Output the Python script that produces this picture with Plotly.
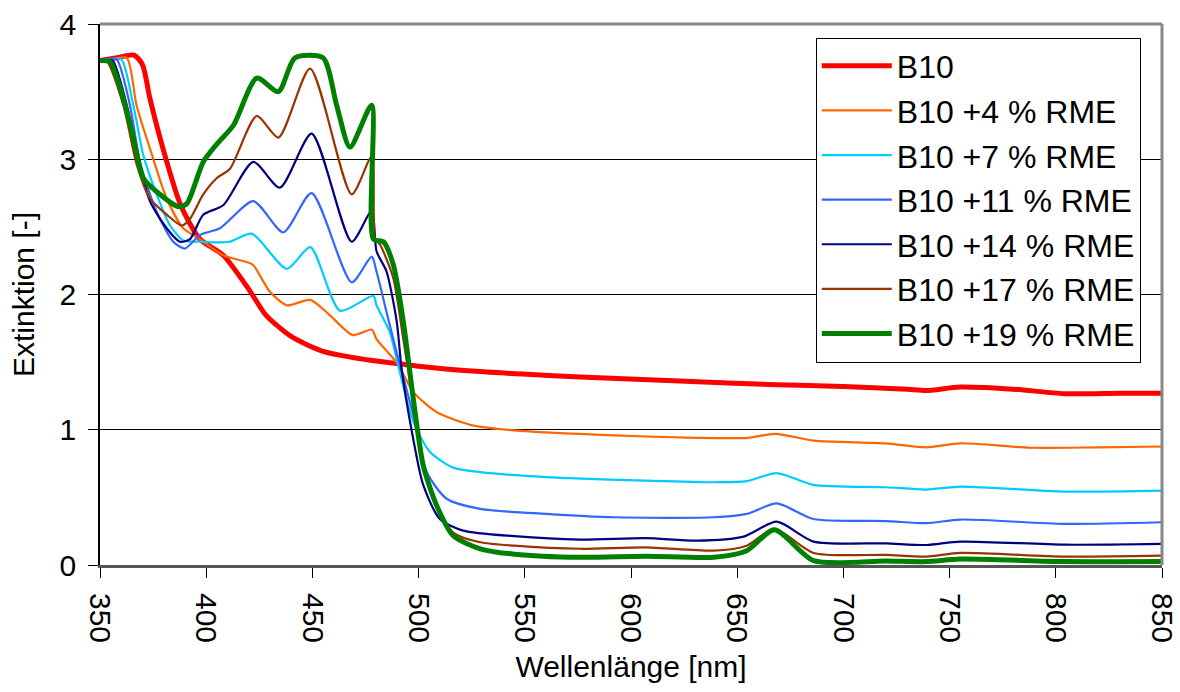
import plotly.graph_objects as go

# ---- data ----
x_b10 = [350, 358, 366, 370, 373.5, 380, 388, 397, 408, 420, 428, 440, 455, 479, 490, 500,
         529, 576, 623, 669, 700, 730, 739, 755, 780, 804, 830, 850]
y_b10 = [3.73, 3.75, 3.77, 3.70, 3.45, 3.06, 2.66, 2.41, 2.29, 2.04, 1.85, 1.69, 1.58, 1.51, 1.49, 1.47,
         1.43, 1.39, 1.36, 1.333, 1.32, 1.30, 1.29, 1.316, 1.30, 1.267, 1.27, 1.27]

x_r4 = [350, 356, 362.6, 367.2, 373.5, 381.4, 389.2, 397, 408, 419, 422, 430, 438, 449, 458, 469, 478,
        480.2, 490, 497.5, 508.5, 526, 545, 592, 631, 655, 668, 686, 720, 739, 755, 788, 820, 850]
y_r4 = [3.73, 3.74, 3.75, 3.40, 3.08, 2.71, 2.49, 2.41, 2.29, 2.24, 2.22, 2.02, 1.92, 1.96, 1.85, 1.70, 1.74,
        1.67, 1.49, 1.28, 1.13, 1.03, 0.995, 0.958, 0.94, 0.94, 0.97, 0.92, 0.90, 0.87, 0.90, 0.867, 0.87, 0.876]

x_r7 = [350, 355, 360, 365.7, 370.4, 376.7, 383, 389.2, 397, 411, 421.4, 438, 449, 463, 478.7, 480.2,
        486.5, 490, 497.5, 505.4, 516.3, 529, 560, 607, 639, 654.5, 668.6, 686, 720, 739, 755, 804, 850]
y_r7 = [3.73, 3.74, 3.74, 3.40, 3.03, 2.74, 2.51, 2.40, 2.39, 2.39, 2.45, 2.19, 2.35, 1.88, 1.99, 1.92,
        1.72, 1.50, 1.06, 0.835, 0.72, 0.687, 0.65, 0.624, 0.612, 0.62, 0.68, 0.593, 0.575, 0.558, 0.58, 0.543, 0.55]

x_r11 = [350, 354, 357.8, 364.1, 368.8, 376.7, 384.5, 390, 397, 406.5, 422.2, 436.3, 449.6, 468.5, 477.9,
         480.2, 484.9, 490, 497.5, 503.8, 513.2, 529, 560, 592, 639, 654.5, 668.6, 686, 720, 739, 755, 804, 850]
y_r11 = [3.73, 3.74, 3.74, 3.40, 2.98, 2.61, 2.39, 2.34, 2.44, 2.49, 2.69, 2.46, 2.75, 2.09, 2.28,
         2.17, 1.87, 1.55, 1.11, 0.687, 0.49, 0.415, 0.378, 0.353, 0.353, 0.378, 0.455, 0.34, 0.325, 0.309, 0.336, 0.304, 0.316]

x_r14 = [350, 353, 356, 362.6, 367.3, 373.5, 381.4, 387.7, 392.4, 398.6, 408, 422.2, 434.7, 449.6, 468.5,
         477.9, 480.2, 484.9, 489.7, 492, 497.5, 502.2, 510, 521, 545, 576, 607, 631, 653, 668.6, 686, 720,
         739, 755, 804, 850]
y_r14 = [3.73, 3.73, 3.73, 3.40, 3.06, 2.69, 2.49, 2.39, 2.41, 2.59, 2.66, 2.98, 2.79, 3.19, 2.39,
         2.62, 2.32, 2.17, 1.80, 1.45, 0.93, 0.59, 0.34, 0.254, 0.213, 0.188, 0.198, 0.18, 0.21, 0.32, 0.173, 0.16,
         0.148, 0.173, 0.15, 0.156]

x_r17 = [350, 353, 361, 367.3, 373.5, 381.4, 388.5, 392.4, 398.6, 404.9, 411.2, 423.8, 434, 448.9, 468.5,
         477.9, 479.5, 481.8, 488.1, 492.8, 497.5, 502, 508.5, 516.3, 529, 545, 576, 607, 639, 654.5, 667.5,
         686, 720, 739, 755, 804, 850]
y_r17 = [3.73, 3.73, 3.40, 2.96, 2.71, 2.59, 2.51, 2.56, 2.74, 2.86, 2.93, 3.32, 3.16, 3.67, 2.74,
         3.02, 2.41, 2.37, 2.12, 1.67, 1.20, 0.75, 0.45, 0.24, 0.168, 0.143, 0.12, 0.13, 0.106, 0.143, 0.267,
         0.089, 0.075, 0.062, 0.089, 0.062, 0.069]

x_r19 = [350, 354.7, 360, 365.7, 370.4, 376.7, 386.9, 390.8, 398.6, 404.9, 412.8, 423.8, 434, 441.8, 455,
         461.4, 467.7, 477.9, 478.7, 483.4, 488.1, 492.8, 497.5, 502.2, 508.5, 516.3, 529, 545, 576, 607, 639,
         654.5, 667.5, 686, 720, 739, 755, 804, 850]
y_r19 = [3.73, 3.72, 3.50, 3.16, 2.86, 2.76, 2.65, 2.67, 2.98, 3.11, 3.25, 3.60, 3.50, 3.75, 3.75,
         3.40, 3.09, 3.40, 2.41, 2.39, 2.22, 1.80, 1.23, 0.735, 0.44, 0.217, 0.12, 0.08, 0.057, 0.065, 0.057,
         0.106, 0.26, 0.032, 0.03, 0.025, 0.044, 0.025, 0.025]

series_names = ["B10", "B10 +4 % RME", "B10 +7 % RME", "B10 +11 % RME",
                "B10 +14 % RME", "B10 +17 % RME", "B10 +19 % RME"]
series_x = [x_b10, x_r4, x_r7, x_r11, x_r14, x_r17, x_r19]
series_y = [y_b10, y_r4, y_r7, y_r11, y_r14, y_r17, y_r19]
series_colors = ["#FF0000", "#FF6600", "#00CCFF", "#3366FF", "#000080", "#993300", "#008000"]
series_widths = [5, 2.2, 2.2, 2.2, 2.2, 2.2, 5]

x_ticks = [350, 400, 450, 500, 550, 600, 650, 700, 750, 800, 850]
y_ticks = [0, 1, 2, 3, 4]

FONT = "Liberation Sans, Arial, sans-serif"

fig = go.Figure()
for xs, ys, name, col, w in zip(series_x, series_y, series_names, series_colors, series_widths):
    fig.add_trace(go.Scatter(x=xs, y=ys, name=name, mode="lines",
                             line=dict(color=col, width=w, shape="spline", smoothing=0.7)))

fig.update_layout(
    width=1180, height=692,
    margin=dict(l=100, r=18, t=24, b=127),
    paper_bgcolor="white", plot_bgcolor="white",
    font=dict(family=FONT, color="black", size=28),
    showlegend=True,
    legend=dict(x=0.674, y=0.975, xanchor="left", yanchor="top",
                bordercolor="black", borderwidth=1, bgcolor="white",
                itemwidth=70,
                font=dict(size=32, family=FONT, color="black")),
    xaxis=dict(range=[350, 850], tickvals=x_ticks, ticktext=[str(v) for v in x_ticks],
               tickangle=90, ticks="outside", ticklen=10, tickcolor="black",
               ticklabelstandoff=9, automargin=False,
               showgrid=False, zeroline=False, showline=True, linecolor="#555555", linewidth=3,
               tickfont=dict(size=30, family=FONT),
               title=dict(text="Wellenlänge [nm]", font=dict(size=30, family=FONT), standoff=14)),
    yaxis=dict(range=[0, 4], tickvals=y_ticks, ticks="outside", ticklen=10, tickcolor="black",
               ticklabelstandoff=6, automargin=False,
               showgrid=True, gridcolor="black", gridwidth=1, zeroline=False,
               showline=True, linecolor="black", linewidth=1.5,
               tickfont=dict(size=30, family=FONT),
               title=dict(text="Extinktion [-]", font=dict(size=30, family=FONT), standoff=16)),
)

# gray frame on top and right edges of the plot area
fig.add_shape(type="line", xref="paper", yref="paper", x0=0, x1=1, y0=1, y1=1,
              line=dict(color="#888888", width=3))
fig.add_shape(type="line", xref="paper", yref="paper", x0=1, x1=1, y0=0, y1=1,
              line=dict(color="#888888", width=3))

fig.write_html("out.html")
